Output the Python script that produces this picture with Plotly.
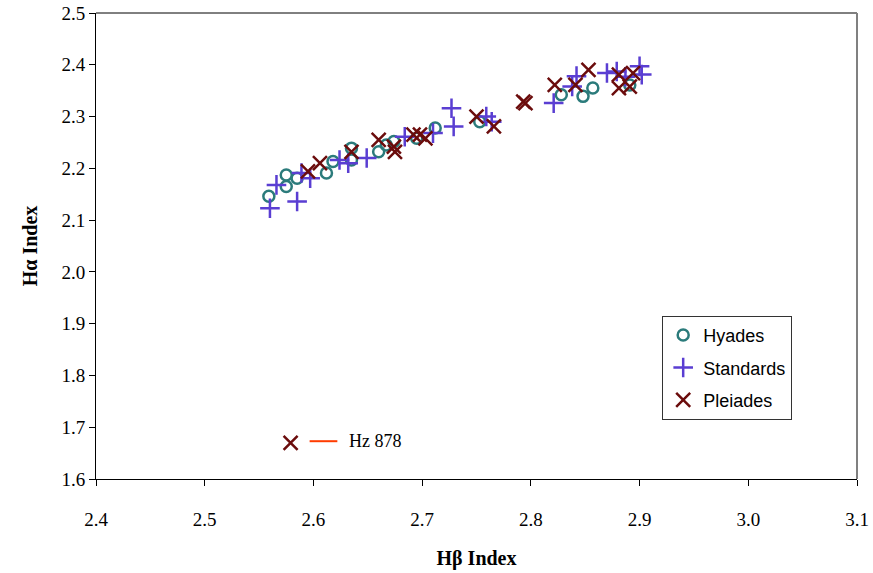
import plotly.graph_objects as go

HYADES_COLOR = "#2B7B7B"
STD_COLOR = "#5A3ED2"
PLEI_COLOR = "#6B0C0C"

# H-beta / H-alpha index values
hyades_hb = [2.559, 2.575, 2.575, 2.585, 2.612, 2.618, 2.635, 2.635, 2.660, 2.667,
             2.674, 2.695, 2.712, 2.753, 2.828, 2.848, 2.857, 2.891]
hyades_ha = [2.146, 2.187, 2.165, 2.181, 2.191, 2.213, 2.239, 2.216, 2.232, 2.245,
             2.252, 2.258, 2.278, 2.290, 2.342, 2.339, 2.355, 2.361]

std_hb = [2.560, 2.566, 2.585, 2.589, 2.597, 2.624, 2.632, 2.649, 2.684, 2.710,
          2.727, 2.729, 2.759, 2.764, 2.821, 2.838, 2.842, 2.870, 2.879, 2.887,
          2.900, 2.902]
std_ha = [2.123, 2.168, 2.136, 2.191, 2.181, 2.216, 2.210, 2.220, 2.261, 2.268,
          2.316, 2.281, 2.300, 2.290, 2.326, 2.358, 2.378, 2.384, 2.387, 2.377,
          2.397, 2.381]

plei_hb = [2.595, 2.606, 2.635, 2.660, 2.674, 2.675, 2.692, 2.698, 2.703, 2.750,
           2.766, 2.793, 2.795, 2.822, 2.841, 2.853, 2.881, 2.881, 2.891, 2.894]
plei_ha = [2.194, 2.210, 2.232, 2.255, 2.242, 2.232, 2.265, 2.265, 2.258, 2.300,
           2.281, 2.329, 2.326, 2.361, 2.361, 2.390, 2.381, 2.355, 2.358, 2.384]

hz_hb = [2.579]
hz_ha = [1.670]
hz_label = "Hz 878"

fig = go.Figure()

fig.add_trace(go.Scatter(
    x=hyades_hb, y=hyades_ha, mode="markers", name="Hyades", legendgroup="a",
    marker=dict(symbol="circle-open", size=11, color=HYADES_COLOR,
                line=dict(width=2.5, color=HYADES_COLOR)),
))
fig.add_trace(go.Scatter(
    x=std_hb, y=std_ha, mode="markers", name="Standards", legendgroup="b",
    marker=dict(symbol="cross-thin-open", size=14, color=STD_COLOR,
                line=dict(width=2.5, color=STD_COLOR)),
))
fig.add_trace(go.Scatter(
    x=plei_hb, y=plei_ha, mode="markers", name="Pleiades", legendgroup="c",
    marker=dict(symbol="x-thin-open", size=14, color=PLEI_COLOR,
                line=dict(width=2.5, color=PLEI_COLOR)),
))
fig.add_trace(go.Scatter(
    x=hz_hb, y=hz_ha, mode="markers", showlegend=False,
    marker=dict(symbol="x-thin-open", size=14, color=PLEI_COLOR,
                line=dict(width=2.5, color=PLEI_COLOR)),
))

# label for Hz 878: short red line and text next to the point
fig.add_shape(type="line", xref="x", yref="y",
              x0=hz_hb[0] + 0.0175, x1=hz_hb[0] + 0.043,
              y0=hz_ha[0] + 0.003, y1=hz_ha[0] + 0.003,
              line=dict(color="#FF3C00", width=2))
fig.add_annotation(x=hz_hb[0] + 0.052, y=hz_ha[0] + 0.004, text=hz_label,
                   xanchor="left", yanchor="middle", showarrow=False,
                   font=dict(family="Liberation Serif", size=18, color="black"))

# frame: black top edge, gray right edge
fig.add_shape(type="line", xref="paper", yref="paper", x0=0, x1=1, y0=1, y1=1,
              line=dict(color="black", width=1))
fig.add_shape(type="line", xref="paper", yref="paper", x0=1, x1=1, y0=0, y1=1,
              line=dict(color="#808080", width=2))

fig.update_layout(
    width=873, height=573,
    margin=dict(l=96, r=16, t=13, b=94),
    plot_bgcolor="white", paper_bgcolor="white",
    font=dict(family="Liberation Serif", size=19, color="black"),
    legend=dict(
        x=0.744, y=0.35, xanchor="left", yanchor="top",
        bordercolor="#333333", borderwidth=1, bgcolor="white",
        font=dict(family="Liberation Sans", size=18, color="black"),
        tracegroupgap=6,
    ),
)
fig.update_xaxes(
    range=[2.4, 3.1], dtick=0.1, tickformat=".1f", automargin=False,
    showgrid=False, zeroline=False, ticklabeloverflow="allow",
    showline=True, linecolor="black", linewidth=1,
    ticks="outside", ticklen=6, tickcolor="black", ticklabelstandoff=17,
    title=dict(text="<b>Hβ Index</b>", font=dict(size=20), standoff=22),
)
fig.update_yaxes(
    range=[1.6, 2.5], dtick=0.1, tickformat=".1f", automargin=False,
    showgrid=False, zeroline=False, ticklabeloverflow="allow",
    showline=True, linecolor="black", linewidth=1,
    ticks="outside", ticklen=6, tickcolor="black",
    title=dict(text="<b>Hα Index</b>", font=dict(size=20), standoff=18),
)

# the page body has a default margin; drop it so the figure sits at the corner
fig.write_html("out.html", config={"displayModeBar": False},
               post_script="document.body.style.margin = '0';")
